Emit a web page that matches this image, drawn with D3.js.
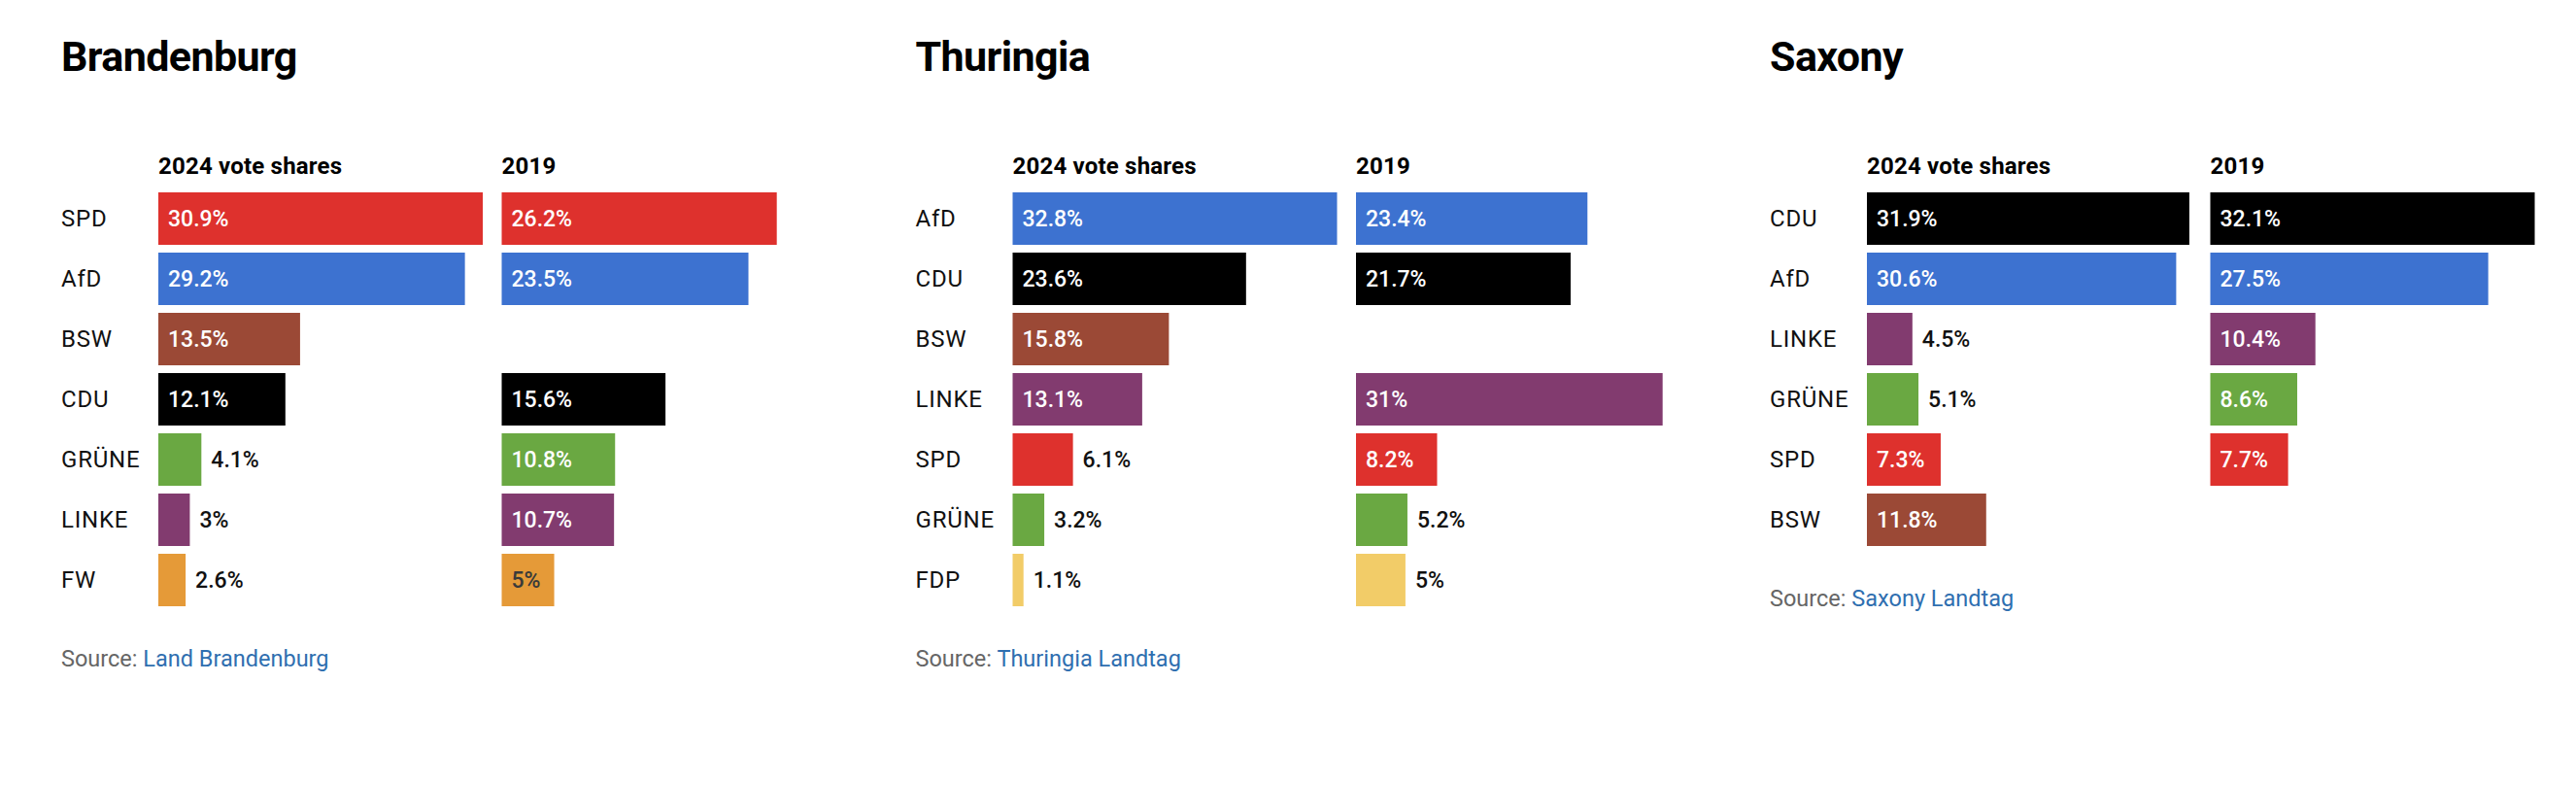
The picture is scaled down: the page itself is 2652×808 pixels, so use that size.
<!DOCTYPE html>
<html>
<head>
<meta charset="utf-8">
<script src="https://cdn.jsdelivr.net/npm/d3@7/dist/d3.min.js"></script>
<style>
  html, body { margin: 0; padding: 0; background: #fff; }
  svg { display: block; }
  text { font-family: Roboto, "Noto Sans", sans-serif; }
</style>
</head>
<body>
<script>
// ---- data ----
const states = ["Brandenburg", "Thuringia", "Saxony"];
const sources = ["Land Brandenburg", "Thuringia Landtag", "Saxony Landtag"];
const columnLabels = ["2024 vote shares", "2019"];

const brandenburgParties = ["SPD", "AfD", "BSW", "CDU", "GRÜNE", "LINKE", "FW"];
const brandenburg2024 = [30.9, 29.2, 13.5, 12.1, 4.1, 3, 2.6];
const brandenburg2019 = [26.2, 23.5, null, 15.6, 10.8, 10.7, 5];

const thuringiaParties = ["AfD", "CDU", "BSW", "LINKE", "SPD", "GRÜNE", "FDP"];
const thuringia2024 = [32.8, 23.6, 15.8, 13.1, 6.1, 3.2, 1.1];
const thuringia2019 = [23.4, 21.7, null, 31, 8.2, 5.2, 5];

const saxonyParties = ["CDU", "AfD", "LINKE", "GRÜNE", "SPD", "BSW"];
const saxony2024 = [31.9, 30.6, 4.5, 5.1, 7.3, 11.8];
const saxony2019 = [32.1, 27.5, 10.4, 8.6, 7.7, null];

const partyNames = ["SPD", "AfD", "BSW", "CDU", "GRÜNE", "LINKE", "FW", "FDP"];
const partyColors = ["#de312d", "#3d72d0", "#9b4936", "#000000", "#6aa842", "#823b6f", "#e59a38", "#f2cc68"];

const panels = [
  { parties: brandenburgParties, values: [brandenburg2024, brandenburg2019] },
  { parties: thuringiaParties, values: [thuringia2024, thuringia2019] },
  { parties: saxonyParties, values: [saxony2024, saxony2019] }
];

// ---- layout ----
const W = 2652, H = 808;
const panelX0 = 63, panelStep = 879.5;
const barOffset = 100;      // from panel left to first column
const colStep = 353.5;      // between the two columns
const barMax = 334;         // width of the largest bar in a panel
const rowTop = 198, rowStep = 62, barH = 54;
const titleY = 73, headY = 179;
const pad = 10;

const color = d3.scaleOrdinal().domain(partyNames).range(partyColors);

const svg = d3.select("body").append("svg").attr("width", W).attr("height", H);

panels.forEach((p, i) => {
  const g = svg.append("g").attr("transform", `translate(${panelX0 + i * panelStep},0)`);
  const n = p.parties.length;
  const maxV = d3.max(p.values.flat().filter(v => v != null));
  const x = d3.scaleLinear().domain([0, maxV]).range([0, barMax]);
  const y = d3.scaleBand().domain(p.parties)
    .range([rowTop, rowTop + n * rowStep - (rowStep - barH)])
    .paddingInner((rowStep - barH) / rowStep).paddingOuter(0);

  g.append("text").attr("x", 0).attr("y", titleY)
    .attr("font-size", 43).attr("font-weight", 700).attr("fill", "#000")
    .attr("letter-spacing", -0.6)
    .text(states[i]);

  // row labels
  g.selectAll("text.row").data(p.parties).join("text")
    .attr("class", "row")
    .attr("x", 0)
    .attr("y", d => y(d) + y.bandwidth() / 2 + 8.4)
    .attr("font-size", 24).attr("letter-spacing", 0.8).attr("fill", "#111")
    .text(d => d);

  p.values.forEach((vals, c) => {
    const cx = barOffset + c * colStep;
    const cg = g.append("g").attr("transform", `translate(${cx},0)`);
    cg.append("text").attr("x", 0).attr("y", headY)
      .attr("font-size", 24).attr("font-weight", 700).attr("letter-spacing", 0.2).attr("fill", "#000")
      .text(columnLabels[c]);

    const rows = p.parties.map((party, k) => ({ party, v: vals[k] })).filter(d => d.v != null);

    cg.selectAll("rect").data(rows).join("rect")
      .attr("x", x(0))
      .attr("y", d => y(d.party))
      .attr("width", d => x(d.v) - x(0))
      .attr("height", y.bandwidth())
      .attr("fill", d => color(d.party));

    const lbl = cg.selectAll("text.val").data(rows).join("text")
      .attr("class", "val")
      .attr("y", d => y(d.party) + y.bandwidth() / 2 + 8.2)
      .attr("font-size", 23).attr("font-weight", 500)
      .text(d => d.v + "%");

    lbl.each(function (d) {
      const tw = this.getComputedTextLength();
      const bw = x(d.v) - x(0);
      const inside = bw >= tw + 2 * pad + 2;
      const light = d3.lab(color(d.party)).l > 66;
      d3.select(this)
        .attr("x", inside ? x(0) + pad : x(d.v) + pad)
        .attr("fill", inside ? (light ? "#3a3a3a" : "#fff") : "#111");
    });
  });

  const srcY = rowTop + n * rowStep - (rowStep - barH) + 62;
  const src = g.append("text").attr("x", 0).attr("y", srcY).attr("font-size", 23.5);
  src.append("tspan").attr("fill", "#666").text("Source: ");
  src.append("tspan").attr("fill", "#2f6fb0").text(sources[i]);
});
</script>
</body>
</html>
